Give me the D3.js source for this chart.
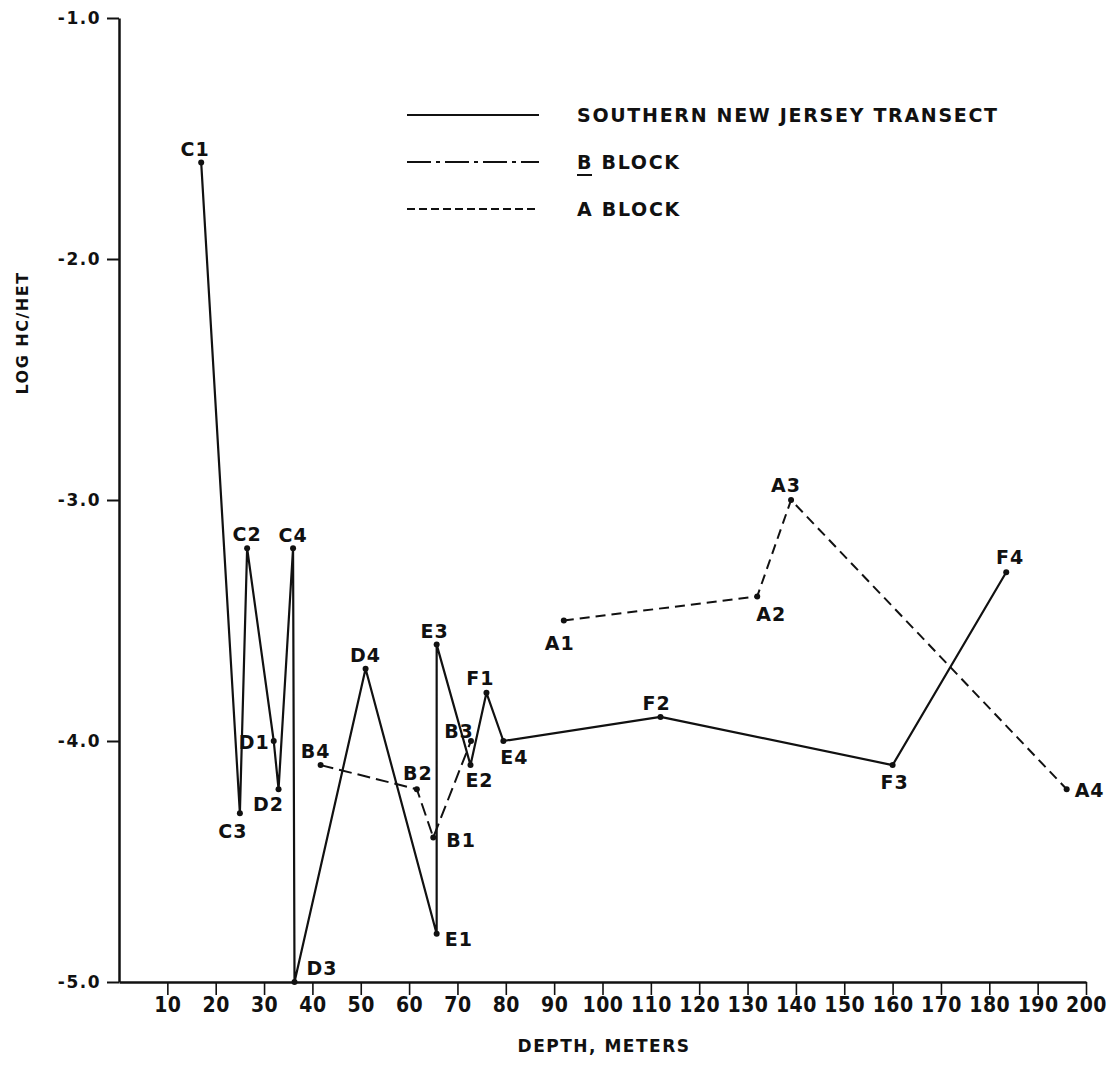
<!DOCTYPE html>
<html>
<head>
<meta charset="utf-8">
<script src="https://cdn.jsdelivr.net/npm/d3@7"></script>
<style>
  body { margin: 0; background: #fff; }
  text { font-family: "DejaVu Sans", sans-serif; font-weight: bold; fill: #111; }
  .axis path, .axis line { stroke: #111; }
</style>
</head>
<body>
<svg id="chart" width="1116" height="1066"></svg>
<script>
// southern new jersey transect, in the order the line is drawn
const njNames = ["C1", "C3", "C2", "D1", "D2", "C4", "D3", "D4", "E1", "E3", "E2", "F1", "E4", "F2", "F3", "F4"];
const njDepth = [17, 25, 26.5, 32, 33, 36, 36.3, 51, 65.7, 65.7, 72.7, 76, 79.5, 112, 160, 183.5];
const njLog = [-1.6, -4.3, -3.2, -4.0, -4.2, -3.2, -5.0, -3.7, -4.8, -3.6, -4.1, -3.8, -4.0, -3.9, -4.1, -3.3];

// B block
const bNames = ["B4", "B2", "B1", "B3"];
const bDepth = [41.7, 61.6, 65, 72.8];
const bLog = [-4.1, -4.2, -4.4, -4.0];

// A block
const aNames = ["A1", "A2", "A3", "A4"];
const aDepth = [92, 132, 139, 196];
const aLog = [-3.5, -3.4, -3.0, -4.2];

const xTicks = d3.range(10, 201, 10);
const yTicks = [-1, -2, -3, -4, -5];

const svg = d3.select("#chart");

const x = d3.scaleLinear().domain([0, 200]).range([119, 1086]);
const y = d3.scaleLinear().domain([-5, -1]).range([982, 18]);

// axes
const yAxis = svg.append("g")
  .attr("class", "axis")
  .attr("transform", `translate(${x(0)},0)`)
  .call(d3.axisLeft(y).tickValues(yTicks).tickSize(12).tickSizeOuter(0).tickPadding(6)
    .tickFormat(d => d.toFixed(1)));
yAxis.select(".domain").attr("stroke-width", 2.5);
yAxis.selectAll(".tick line").attr("stroke-width", 2);
yAxis.selectAll(".tick text")
  .style("font-size", "17px")
  .attr("letter-spacing", "1.5px")
  .attr("fill", "#111");

const xAxis = svg.append("g")
  .attr("class", "axis")
  .attr("transform", `translate(0,${y(-5)})`)
  .call(d3.axisBottom(x).tickValues(xTicks).tickSize(13).tickSizeOuter(0).tickPadding(2));
xAxis.select(".domain").attr("stroke-width", 2.5);
xAxis.selectAll(".tick line").attr("stroke-width", 1.6);
xAxis.selectAll(".tick text")
  .style("font-family", "'Liberation Sans Narrow', 'DejaVu Sans Condensed', sans-serif")
  .style("font-size", "21px")
  .attr("letter-spacing", "0.5px")
  .attr("fill", "#111");

// axis titles
svg.append("text")
  .attr("transform", `translate(28,333) rotate(-90)`)
  .attr("text-anchor", "middle")
  .style("font-size", "16px")
  .attr("letter-spacing", "1.5px")
  .text("LOG  HC/HET");

svg.append("text")
  .attr("x", 604).attr("y", 1052)
  .attr("text-anchor", "middle")
  .style("font-size", "17px")
  .attr("letter-spacing", "1.5px")
  .text("DEPTH,  METERS");

// series
const toPts = (names, depth, log) => names.map((n, i) => ({ name: n, depth: depth[i], v: log[i] }));
const series = [
  { pts: toPts(njNames, njDepth, njLog), dash: null, width: 2.2 },
  { pts: toPts(bNames, bDepth, bLog), dash: "13,6", width: 2 },
  { pts: toPts(aNames, aDepth, aLog), dash: "10,6", width: 2 }
];

const line = d3.line().x(d => x(d.depth)).y(d => y(d.v));

series.forEach(s => {
  svg.append("path")
    .datum(s.pts)
    .attr("d", line)
    .attr("fill", "none")
    .attr("stroke", "#111")
    .attr("stroke-width", s.width)
    .attr("stroke-linejoin", "round")
    .attr("stroke-dasharray", s.dash);
  svg.selectAll(null)
    .data(s.pts)
    .join("circle")
    .attr("cx", d => x(d.depth))
    .attr("cy", d => y(d.v))
    .attr("r", 3)
    .attr("fill", "#111");
});

// label placement around each station dot: dx, dy, anchor
const labelPos = {
  C1: [-6, -13, "middle"], C3: [-7, 18, "middle"], C2: [0, -14, "middle"],
  D1: [-4, 1, "end"], D2: [-10, 15, "middle"], C4: [0, -13, "middle"],
  D3: [12, -14, "start"], D4: [0, -14, "middle"], E1: [8, 5, "start"],
  E3: [-2, -13, "middle"], E2: [9, 15, "middle"], F1: [-6, -15, "middle"],
  E4: [11, 16, "middle"], F2: [-4, -14, "middle"], F3: [2, 17, "middle"],
  F4: [4, -15, "middle"], B4: [-5, -14, "middle"], B2: [1, -16, "middle"],
  B1: [13, 3, "start"], B3: [-12, -10, "middle"], A1: [-4, 23, "middle"],
  A2: [14, 18, "middle"], A3: [-5, -15, "middle"], A4: [8, 1, "start"]
};

const allPts = series.flatMap(s => s.pts);
svg.selectAll(null)
  .data(allPts)
  .join("text")
  .attr("x", d => x(d.depth) + labelPos[d.name][0])
  .attr("y", d => y(d.v) + labelPos[d.name][1])
  .attr("dy", "0.36em")
  .attr("text-anchor", d => labelPos[d.name][2])
  .style("font-size", "19px")
  .attr("letter-spacing", "1px")
  .text(d => d.name);

// legend
const legend = [
  { label: "SOUTHERN  NEW  JERSEY  TRANSECT", dash: null },
  { label: "B  BLOCK", dash: "24,5,4,5" },
  { label: "A  BLOCK", dash: "8,4" }
];
const lg = svg.append("g").attr("transform", "translate(407,115)");
legend.forEach((d, i) => {
  const row = lg.append("g").attr("transform", `translate(0,${i * 47})`);
  row.append("line")
    .attr("x1", 0).attr("x2", 132)
    .attr("stroke", "#111").attr("stroke-width", 2)
    .attr("stroke-dasharray", d.dash);
  row.append("text")
    .attr("x", 170).attr("dy", "0.36em")
    .style("font-size", "19px")
    .attr("letter-spacing", "1.7px")
    .text(d.label);
});
// underline under the B
lg.append("line")
  .attr("x1", 170).attr("x2", 185)
  .attr("y1", 60).attr("y2", 60)
  .attr("stroke", "#111").attr("stroke-width", 2);
</script>
</body>
</html>
